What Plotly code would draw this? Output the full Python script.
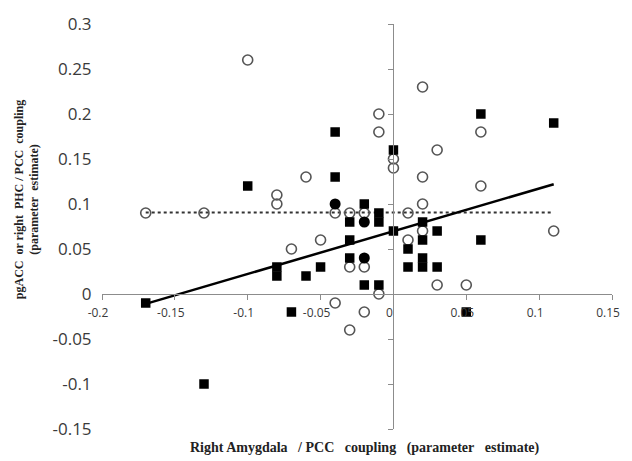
import plotly.graph_objects as go

# Filled squares (black)
sq_x = [-0.17, -0.13, -0.10, -0.08, -0.08, -0.07, -0.06, -0.05, -0.04, -0.04,
        -0.03, -0.03, -0.03, -0.02, -0.02, -0.01, -0.01, -0.01, 0.00, 0.00,
        0.01, 0.01, 0.02, 0.02, 0.02, 0.02, 0.03, 0.03, 0.05, 0.06, 0.06, 0.11]
sq_y = [-0.01, -0.10, 0.12, 0.03, 0.02, -0.02, 0.02, 0.03, 0.18, 0.13,
        0.08, 0.06, 0.04, 0.10, 0.01, 0.09, 0.08, 0.01, 0.16, 0.07,
        0.05, 0.03, 0.08, 0.06, 0.04, 0.03, 0.07, 0.03, -0.02, 0.20, 0.06, 0.19]

# Open circles
ci_x = [-0.17, -0.13, -0.10, -0.08, -0.08, -0.07, -0.06, -0.05, -0.04, -0.04,
        -0.03, -0.03, -0.03, -0.02, -0.02, -0.02, -0.01, -0.01, -0.01, 0.00,
        0.00, 0.01, 0.01, 0.02, 0.02, 0.02, 0.02, 0.03, 0.03, 0.05, 0.06, 0.06, 0.11]
ci_y = [0.09, 0.09, 0.26, 0.11, 0.10, 0.05, 0.13, 0.06, 0.09, -0.01,
        0.09, 0.03, -0.04, 0.09, 0.03, -0.02, 0.20, 0.18, 0.00, 0.15,
        0.14, 0.09, 0.06, 0.23, 0.13, 0.10, 0.07, 0.16, 0.01, 0.01, 0.18, 0.12, 0.07]

# Overlapping points (drawn as filled circles)
ov_x = [-0.04, -0.02, -0.02]
ov_y = [0.10, 0.08, 0.04]

# Trend lines
sq_trend_x = [-0.17, 0.11]
sq_trend_y = [-0.011, 0.122]
ci_trend_x = [-0.17, 0.11]
ci_trend_y = [0.0905, 0.0905]

x_ticks = [-0.2, -0.15, -0.1, -0.05, 0, 0.05, 0.1, 0.15]
x_ticktext = ["-0.2", "-0.15", "-0.1", "-0.05", "0", "0.05", "0.1", "0.15"]
y_ticks = [0.3, 0.25, 0.2, 0.15, 0.1, 0.05, 0, -0.05, -0.1, -0.15]
y_ticktext = ["0.3", "0.25", "0.2", "0.15", "0.1", "0.05", "0", "-0.05", "-0.1", "-0.15"]

x_range = [-0.2, 0.15]
y_range = [-0.15, 0.3]

fig = go.Figure()

fig.add_trace(go.Scatter(x=[None], y=[None], yaxis="y2", showlegend=False, hoverinfo="skip"))

fig.add_trace(go.Scatter(x=ci_trend_x, y=ci_trend_y, mode="lines",
                         line=dict(color="#333333", width=2, dash="dot"), showlegend=False))
fig.add_trace(go.Scatter(x=ci_x, y=ci_y, mode="markers",
                         marker=dict(symbol="circle-open", size=10, color="#555555",
                                     line=dict(width=1.6, color="#555555")),
                         showlegend=False))
fig.add_trace(go.Scatter(x=sq_x, y=sq_y, mode="markers",
                         marker=dict(symbol="square", size=9.5, color="black"),
                         showlegend=False))
fig.add_trace(go.Scatter(x=ov_x, y=ov_y, mode="markers",
                         marker=dict(symbol="circle", size=11, color="black"),
                         showlegend=False))
fig.add_trace(go.Scatter(x=sq_trend_x, y=sq_trend_y, mode="lines",
                         line=dict(color="black", width=2.5), showlegend=False))

x_pos = (0 - y_range[0]) / (y_range[1] - y_range[0])
y_pos = (0 - x_range[0]) / (x_range[1] - x_range[0])

tick_font = dict(family="Open Sans, Liberation Sans, sans-serif", color="#3a3a3a")
title_font = dict(family="Liberation Serif, Times New Roman, serif", color="#222222", weight="bold")
sp = "\u00a0\u00a0 "

fig.update_layout(
    width=632, height=461,
    margin=dict(l=102, r=19, t=20, b=32),
    plot_bgcolor="white", paper_bgcolor="white",
    xaxis=dict(range=x_range, anchor="free", position=x_pos,
               showline=True, linecolor="#8c8c8c", linewidth=1,
               ticks="outside", ticklen=5, tickcolor="#8c8c8c",
               tickvals=x_ticks, ticktext=x_ticktext,
               tickfont=dict(size=12, **tick_font), ticklabelstandoff=3,
               ticklabelshift=-4,
               showgrid=False, zeroline=False),
    yaxis=dict(range=y_range, showline=False, showgrid=False, zeroline=False,
               ticks="outside", ticklen=6, tickcolor="rgba(0,0,0,0)",
               tickvals=y_ticks, ticktext=y_ticktext,
               tickfont=dict(size=17, **tick_font)),
    yaxis2=dict(range=y_range, overlaying="y", anchor="free", position=y_pos,
                side="left", showline=True, linecolor="#8c8c8c", linewidth=1,
                ticks="outside", ticklen=5, tickcolor="#8c8c8c",
                tickvals=y_ticks, showticklabels=False,
                showgrid=False, zeroline=False),
    annotations=[
        dict(text="Right Amygdala" + sp + "/ PCC" + sp + "coupling" + sp + "(parameter" + sp + "estimate)",
             xref="paper", yref="paper", x=0.516, y=-0.046, xanchor="center", yanchor="middle",
             showarrow=False, font=dict(size=14, **title_font)),
        dict(text="pgACC\u00a0 or right\u00a0 PHC / PCC\u00a0 coupling<br>(parameter\u00a0 estimate)",
             xref="paper", yref="paper", x=-0.147, y=0.565, xanchor="center", yanchor="middle",
             textangle=-90, showarrow=False, font=dict(size=12, **title_font)),
    ],
)

fig.write_html("out.html", config={"displayModeBar": False},
               post_script="document.body.style.margin='0';")
